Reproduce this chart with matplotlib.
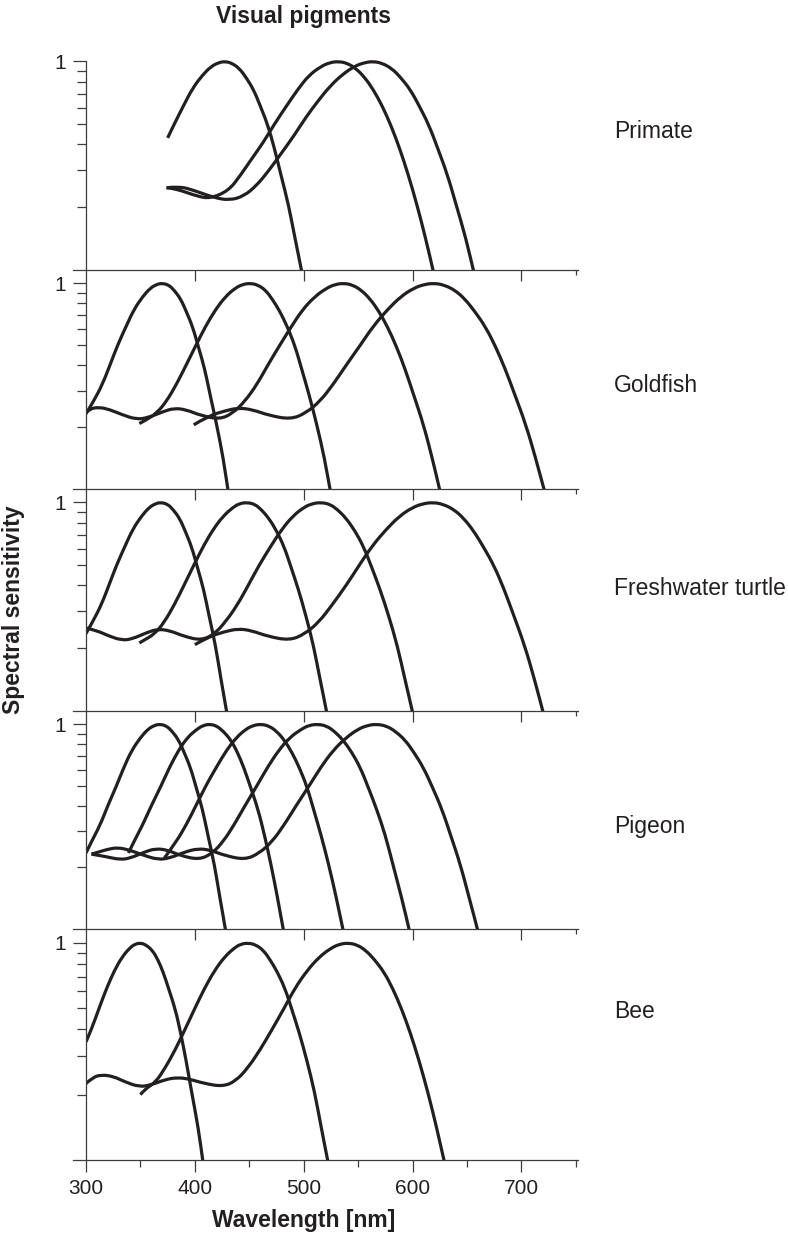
import matplotlib
matplotlib.use("Agg")
import matplotlib.pyplot as plt
from matplotlib.path import Path
from matplotlib.patches import PathPatch
from matplotlib.ticker import FixedLocator, FixedFormatter, NullFormatter

plt.rcParams['font.family'] = ['Liberation Sans', 'DejaVu Sans']

INK = '#231f20'
AXC = '#3c3c3c'

# species shown on the right, one per panel
species = ['Primate', 'Goldfish', 'Freshwater turtle', 'Pigeon', 'Bee']

# curves: (wavelength nm, relative sensitivity)
primate = [
    ([375, 381, 390, 398, 407, 415, 422, 428, 434, 441, 447, 454, 460, 467, 473, 479, 486, 492, 499, 503],
     [0.43, 0.50, 0.62, 0.745, 0.86, 0.947, 0.988,
      1.0, 0.981, 0.925, 0.839, 0.732, 0.614, 0.496, 0.385, 0.287, 0.206, 0.142, 0.094, 0.071]),
    ([374, 378, 388, 402, 414, 431, 442, 452, 463, 473, 484, 495, 505, 516, 524, 532, 540, 548, 556, 564, 572, 580, 588, 596, 604, 612, 620, 625],
     [0.248, 0.247, 0.240, 0.226, 0.220, 0.240, 0.285, 0.34, 0.41, 0.50, 0.61, 0.74, 0.86, 0.947, 0.988,
      1.0, 0.981, 0.925, 0.839, 0.732, 0.614, 0.496, 0.385, 0.287, 0.206, 0.142, 0.094, 0.071]),
    ([374, 386, 400, 418, 432, 445, 457, 468, 479, 491, 502, 513, 524, 536, 547, 556, 564, 572, 581, 589, 598, 606, 615, 623, 632, 640, 649, 657, 663],
     [0.248, 0.252, 0.240, 0.222, 0.216, 0.226, 0.255, 0.30, 0.36, 0.44, 0.54, 0.645, 0.76, 0.87, 0.95, 0.988,
      1.0, 0.981, 0.925, 0.839, 0.732, 0.614, 0.496, 0.385, 0.287, 0.206, 0.142, 0.094, 0.071]),
]

goldfish = [
    ([300, 307, 315, 322, 329, 337, 344, 352, 359, 365, 370, 376, 381, 387, 392, 398, 403, 409, 414, 420, 426, 431, 435],
     [0.232, 0.267, 0.322, 0.40, 0.50, 0.62, 0.745, 0.86, 0.947, 0.988,
      1.0, 0.981, 0.925, 0.839, 0.732, 0.614, 0.496, 0.385, 0.287, 0.206, 0.142, 0.094, 0.071]),
    ([349, 355, 365, 374, 383, 392, 401, 410, 419, 428, 437, 444, 451, 458, 465, 471, 478, 485, 492, 498, 505, 512, 519, 525, 530],
     [0.208, 0.216, 0.234, 0.267, 0.322, 0.40, 0.50, 0.62, 0.745, 0.86, 0.947, 0.988,
      1.0, 0.981, 0.925, 0.839, 0.732, 0.614, 0.496, 0.385, 0.287, 0.206, 0.142, 0.094, 0.071]),
    ([300, 303, 312, 322, 333, 346, 357, 371, 381, 392, 405, 423, 435, 446, 457, 467, 478, 489, 499, 510, 521, 529, 537, 545, 553, 561, 569, 577, 585, 593, 601, 610, 618, 626, 631],
     [0.235, 0.245, 0.250, 0.243, 0.230, 0.218, 0.222, 0.238, 0.247, 0.243, 0.228, 0.218, 0.234,
      0.267, 0.322, 0.40, 0.50, 0.62, 0.745, 0.86, 0.947, 0.988,
      1.0, 0.981, 0.925, 0.839, 0.732, 0.614, 0.496, 0.385, 0.287, 0.206, 0.142, 0.094, 0.071]),
    ([399, 412, 428, 440, 453, 468, 488, 502, 515, 527, 539, 552, 564, 577, 589, 601, 611, 620, 629, 639, 648, 657, 667, 676, 685, 694, 704, 713, 722, 729],
     [0.205, 0.226, 0.240, 0.248, 0.243, 0.228, 0.218, 0.234,
      0.267, 0.322, 0.40, 0.50, 0.62, 0.745, 0.86, 0.947, 0.988,
      1.0, 0.981, 0.925, 0.839, 0.732, 0.614, 0.496, 0.385, 0.287, 0.206, 0.142, 0.094, 0.071]),
]

turtle = [
    ([300, 306, 314, 321, 328, 336, 343, 351, 358, 364, 369, 375, 380, 386, 391, 397, 402, 408, 413, 419, 424, 430, 434],
     [0.235, 0.267, 0.322, 0.40, 0.50, 0.62, 0.745, 0.86, 0.947, 0.988,
      1.0, 0.981, 0.925, 0.839, 0.732, 0.614, 0.496, 0.385, 0.287, 0.206, 0.142, 0.094, 0.071]),
    ([349, 353, 363, 372, 381, 390, 399, 408, 417, 426, 435, 441, 448, 455, 461, 468, 475, 482, 488, 495, 502, 509, 515, 522, 526],
     [0.212, 0.218, 0.234, 0.267, 0.322, 0.40, 0.50, 0.62, 0.745, 0.86, 0.947, 0.988,
      1.0, 0.981, 0.925, 0.839, 0.732, 0.614, 0.496, 0.385, 0.287, 0.206, 0.142, 0.094, 0.071]),
    ([300, 310, 320, 333, 343, 356, 366, 377, 390, 406, 418, 428, 439, 449, 459, 470, 480, 490, 500, 508, 516, 524, 531, 539, 547, 555, 562, 570, 578, 586, 593, 601, 606],
     [0.250, 0.243, 0.230, 0.218, 0.222, 0.238, 0.247, 0.243, 0.228, 0.218, 0.234,
      0.267, 0.322, 0.40, 0.50, 0.62, 0.745, 0.86, 0.947, 0.988,
      1.0, 0.981, 0.925, 0.839, 0.732, 0.614, 0.496, 0.385, 0.287, 0.206, 0.142, 0.094, 0.071]),
    ([400, 412, 427, 440, 452, 467, 487, 501, 514, 526, 539, 551, 563, 576, 588, 600, 610, 619, 628, 638, 647, 656, 665, 675, 684, 693, 703, 712, 721, 727],
     [0.208, 0.226, 0.240, 0.248, 0.243, 0.228, 0.218, 0.234,
      0.267, 0.322, 0.40, 0.50, 0.62, 0.745, 0.86, 0.947, 0.988,
      1.0, 0.981, 0.925, 0.839, 0.732, 0.614, 0.496, 0.385, 0.287, 0.206, 0.142, 0.094, 0.071]),
]

pigeon = [
    ([300, 305, 313, 320, 328, 335, 342, 350, 357, 363, 368, 374, 379, 385, 390, 396, 401, 407, 412, 418, 423, 429, 432],
     [0.235, 0.267, 0.322, 0.40, 0.50, 0.62, 0.745, 0.86, 0.947, 0.988,
      1.0, 0.981, 0.925, 0.839, 0.732, 0.614, 0.496, 0.385, 0.287, 0.206, 0.142, 0.094, 0.071]),
    ([339, 344, 352, 360, 369, 377, 385, 393, 402, 408, 414, 420, 426, 433, 439, 445, 451, 458, 464, 470, 476, 482, 487],
     [0.235, 0.267, 0.322, 0.40, 0.50, 0.62, 0.745, 0.86, 0.947, 0.988,
      1.0, 0.981, 0.925, 0.839, 0.732, 0.614, 0.496, 0.385, 0.287, 0.206, 0.142, 0.094, 0.071]),
    ([372, 383, 392, 401, 410, 420, 429, 438, 447, 454, 461, 468, 475, 482, 489, 496, 503, 509, 516, 523, 530, 537, 542],
     [0.222, 0.267, 0.322, 0.40, 0.50, 0.62, 0.745, 0.86, 0.947, 0.988,
      1.0, 0.981, 0.925, 0.839, 0.732, 0.614, 0.496, 0.385, 0.287, 0.206, 0.142, 0.094, 0.071]),
    ([305, 318, 331, 341, 354, 364, 375, 387, 404, 416, 426, 436, 446, 457, 467, 477, 487, 498, 505, 513, 521, 528, 536, 544, 552, 559, 567, 575, 582, 590, 598, 603],
     [0.232, 0.226, 0.218, 0.222, 0.238, 0.247, 0.243, 0.228, 0.218, 0.234,
      0.267, 0.322, 0.40, 0.50, 0.62, 0.745, 0.86, 0.947, 0.988,
      1.0, 0.981, 0.925, 0.839, 0.732, 0.614, 0.496, 0.385, 0.287, 0.206, 0.142, 0.094, 0.071]),
    ([305, 312, 320, 329, 340, 352, 366, 377, 391, 403, 414, 428, 446, 459, 471, 482, 493, 505, 516, 527, 539, 550, 559, 567, 576, 584, 593, 601, 610, 618, 627, 635, 644, 652, 661, 666],
     [0.232, 0.238, 0.245, 0.250, 0.243, 0.230, 0.218, 0.222, 0.238, 0.247, 0.243, 0.228, 0.218, 0.234,
      0.267, 0.322, 0.40, 0.50, 0.62, 0.745, 0.86, 0.947, 0.988,
      1.0, 0.981, 0.925, 0.839, 0.732, 0.614, 0.496, 0.385, 0.287, 0.206, 0.142, 0.094, 0.071]),
]

bee = [
    ([300, 305, 312, 319, 326, 333, 340, 345, 350, 355, 361, 366, 371, 376, 382, 387, 392, 397, 403, 408, 411],
     [0.35, 0.40, 0.50, 0.62, 0.745, 0.86, 0.947, 0.988,
      1.0, 0.981, 0.925, 0.839, 0.732, 0.614, 0.496, 0.385, 0.287, 0.206, 0.142, 0.094, 0.071]),
    ([350, 354, 364, 373, 382, 391, 400, 409, 418, 427, 436, 442, 449, 456, 463, 469, 476, 483, 489, 496, 503, 510, 516, 523, 528],
     [0.20, 0.212, 0.228, 0.267, 0.322, 0.40, 0.50, 0.62, 0.745, 0.86, 0.947, 0.988,
      1.0, 0.981, 0.925, 0.839, 0.732, 0.614, 0.496, 0.385, 0.287, 0.206, 0.142, 0.094, 0.071]),
    ([300, 306, 314, 325, 335, 349, 360, 373, 384, 395, 409, 426, 438, 449, 460, 471, 482, 492, 503, 514, 525, 533, 541, 549, 557, 565, 574, 582, 590, 598, 606, 614, 622, 630, 636],
     [0.225, 0.240, 0.247, 0.243, 0.230, 0.217, 0.222, 0.235, 0.240, 0.236, 0.225, 0.218, 0.232,
      0.267, 0.322, 0.40, 0.50, 0.62, 0.745, 0.86, 0.947, 0.988,
      1.0, 0.981, 0.925, 0.839, 0.732, 0.614, 0.496, 0.385, 0.287, 0.206, 0.142, 0.094, 0.071]),
]

panels = [primate, goldfish, turtle, pigeon, bee]

x_major = [300, 400, 500, 600, 700]
x_minor = [350, 450, 550, 650, 750]
y_minor = [0.2, 0.3, 0.4, 0.5, 0.6, 0.7, 0.8, 0.9]

# panel edges in pixels (top, bottom) of the 788x1238 canvas
W, H = 788, 1238
edges = [(48, 270), (270, 489), (489, 711), (711, 929), (929, 1160)]
label_y = [131, 386, 589, 826, 1012]
left_px, right_px = 86, 578


def smooth_curve(nm, val):
    # quadratic bezier through the read points, so the drawn line has no corners
    verts = [(nm[0], val[0])]
    codes = [Path.MOVETO]
    for k in range(1, len(nm) - 1):
        mid = ((nm[k] + nm[k + 1]) / 2, (val[k] * val[k + 1]) ** 0.5)
        verts += [(nm[k], val[k]), mid]
        codes += [Path.CURVE3, Path.CURVE3]
    verts.append((nm[-1], val[-1]))
    codes.append(Path.LINETO)
    return Path(verts, codes)


fig = plt.figure(figsize=(W / 100, H / 100), dpi=100)

for i, curves in enumerate(panels):
    top, bot = edges[i]
    ax = fig.add_axes([left_px / W, 1 - bot / H, (right_px - left_px) / W, (bot - top) / H])
    ax.set_facecolor('none')
    ax.set_yscale('log')
    ax.set_ylim(0.1, 1.16)
    ax.set_xlim(300, 752)
    for nm, val in curves:
        ax.add_patch(PathPatch(smooth_curve(nm, val), facecolor='none', edgecolor=INK,
                               lw=2.3, joinstyle='round', capstyle='butt'))
    ax.set_ylim(0.1, 1.16)
    ax.set_xlim(300, 752)

    ax.yaxis.set_major_locator(FixedLocator([1]))
    ax.yaxis.set_major_formatter(FixedFormatter(['1']))
    ax.yaxis.set_minor_locator(FixedLocator(y_minor))
    ax.yaxis.set_minor_formatter(NullFormatter())
    ax.tick_params(axis='y', which='major', length=9.5, width=0.9, color=AXC,
                   labelsize=15, labelcolor=INK, pad=5)
    ax.tick_params(axis='y', which='minor', length=6.3, width=0.9, color=AXC)

    for s in ['top', 'right']:
        ax.spines[s].set_visible(False)
    for s in ['left', 'bottom']:
        ax.spines[s].set_color(AXC)
        ax.spines[s].set_linewidth(0.9)
    ax.spines['bottom'].set_bounds(288, 752)
    if i == 0:
        ax.spines['left'].set_bounds(0.1, 1.0)

    if i < 4:
        # ticks drop into the panel below
        ax.xaxis.set_major_locator(FixedLocator([400, 500, 600, 700]))
        ax.xaxis.set_minor_locator(FixedLocator([750]))
        ax.tick_params(axis='x', which='major', length=8, width=0.9, color=AXC, labelbottom=False)
        ax.tick_params(axis='x', which='minor', length=3.3, width=0.9, color=AXC)
    else:
        ax.xaxis.set_major_locator(FixedLocator(x_major))
        ax.xaxis.set_major_formatter(FixedFormatter([str(v) for v in x_major]))
        ax.xaxis.set_minor_locator(FixedLocator(x_minor))
        ax.tick_params(axis='x', which='major', length=8.5, width=0.9, color=AXC,
                       labelsize=15, labelcolor=INK, pad=5)
        ax.tick_params(axis='x', which='minor', length=5, width=0.9, color=AXC)

    fig.text(614 / W, 1 - label_y[i] / H, species[i], fontsize=16.5, color=INK,
             ha='left', va='center')

xmid = (left_px + (500 - 300) * (right_px - left_px) / 452) / W
fig.text(xmid, 1 - 23.5 / H, 'Visual pigments', fontsize=16.5, fontweight='bold',
         color=INK, ha='center', va='baseline')
fig.text(xmid, 1 - 1227.5 / H, 'Wavelength [nm]', fontsize=16.5, fontweight='bold',
         color=INK, ha='center', va='baseline')
fig.text(13.5 / W, 1 - 610 / H, 'Spectral sensitivity', fontsize=16.5, fontweight='bold',
         color=INK, ha='center', va='center', rotation=90)

fig.savefig('out.png', dpi=100)
